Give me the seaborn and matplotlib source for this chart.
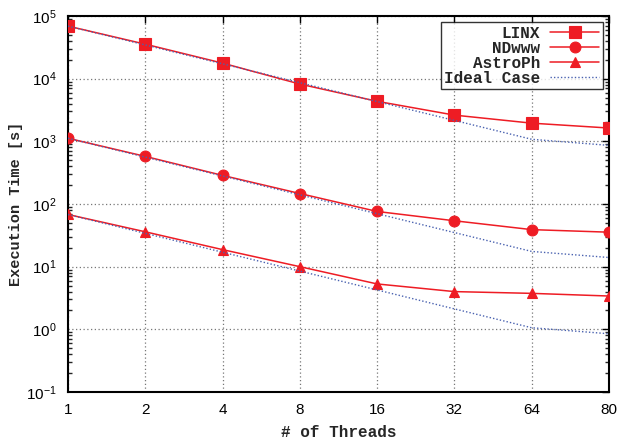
import numpy as np
import pandas as pd
import matplotlib
matplotlib.use("Agg")
import matplotlib.pyplot as plt
import seaborn as sns
from matplotlib.ticker import LogLocator, FixedLocator, NullFormatter

threads = ["1", "2", "4", "8", "16", "32", "64", "80"]
linx = [69000, 35500, 17700, 8200, 4350, 2620, 1950, 1630]
ndwww = [1120, 575, 286, 147, 76, 54, 39, 35.5]
astroph = [68, 36, 18.7, 10, 5.3, 4.0, 3.75, 3.4]
ideal_linx = [69000, 34500, 17250, 8625, 4312, 2156, 1078, 862]
ideal_ndwww = [1120, 560, 280, 140, 70, 35, 17.5, 14]
ideal_astroph = [68, 34, 17, 8.5, 4.25, 2.12, 1.06, 0.85]

sns.set_theme(style="white")
plt.rcParams["font.family"] = ["Liberation Mono", "DejaVu Sans"]
plt.rcParams["mathtext.fontset"] = "custom"
plt.rcParams["mathtext.rm"] = "Liberation Sans"
plt.rcParams["mathtext.it"] = "Liberation Sans"
plt.rcParams["mathtext.default"] = "regular"

fig = plt.figure(figsize=(6.18, 4.43), dpi=100)
ax = fig.add_axes([68 / 618, 51 / 443, (609 - 68) / 618, (392 - 16) / 443])

pos = np.arange(len(threads))
red = "#ee1c24"
blue = "#4a62b0"

series = [("LINX", linx, "s", 8.2), ("NDwww", ndwww, "o", 7.8), ("AstroPh", astroph, "^", 7.8)]
for name, vals, mk, ms in series:
    sns.lineplot(x=pos, y=vals, ax=ax, color=red, marker=mk, markersize=ms,
                 markeredgecolor=red, markeredgewidth=0.8, linewidth=1.1,
                 label=name, zorder=3)

for i, vals in enumerate([ideal_linx, ideal_ndwww, ideal_astroph]):
    sns.lineplot(x=pos, y=vals, ax=ax, color=blue, linestyle=(0, (1, 1.5)),
                 linewidth=1.0, label="Ideal Case" if i == 0 else None, zorder=4)

ax.set_yscale("log")
ax.set_ylim(0.1, 1e5)
ax.set_xlim(0, len(threads) - 1)
ax.xaxis.set_major_locator(FixedLocator(pos))
ax.set_xticklabels(threads)
ax.yaxis.set_major_locator(LogLocator(base=10, numticks=10))
ax.yaxis.set_minor_locator(LogLocator(base=10, subs=np.arange(2, 10), numticks=20))
ax.yaxis.set_minor_formatter(NullFormatter())

ax.grid(True, which="major", color="#777777", linestyle=(0, (1, 2)), linewidth=0.9)
ax.tick_params(axis="both", which="major", direction="in", length=5, width=1,
               top=True, right=True, labelsize=11, colors="black", pad=8)
ax.tick_params(axis="y", which="minor", direction="in", length=3, width=1,
               left=True, right=True)
for lab in ax.get_xticklabels() + ax.get_yticklabels():
    lab.set_fontfamily("Liberation Sans")

for s in ax.spines.values():
    s.set_color("black")
    s.set_linewidth(1.5)

ax.set_xlabel("# of Threads", fontsize=11.5, fontweight="bold", labelpad=6)
ax.set_ylabel("Execution Time [s]", fontsize=11, fontweight="bold", labelpad=2)

leg = ax.legend(loc="upper right", markerfirst=False, fontsize=11.5, frameon=True,
                fancybox=False, borderaxespad=0.4, handlelength=3.1,
                labelspacing=0.0, borderpad=0.2, handletextpad=0.6)
leg.get_frame().set_edgecolor("black")
leg.get_frame().set_linewidth(1.0)
for t in leg.get_texts():
    t.set_ha("right")
    t.set_fontweight("bold")
leg._legend_box.align = "right"

fig.savefig("out.png", dpi=100)
